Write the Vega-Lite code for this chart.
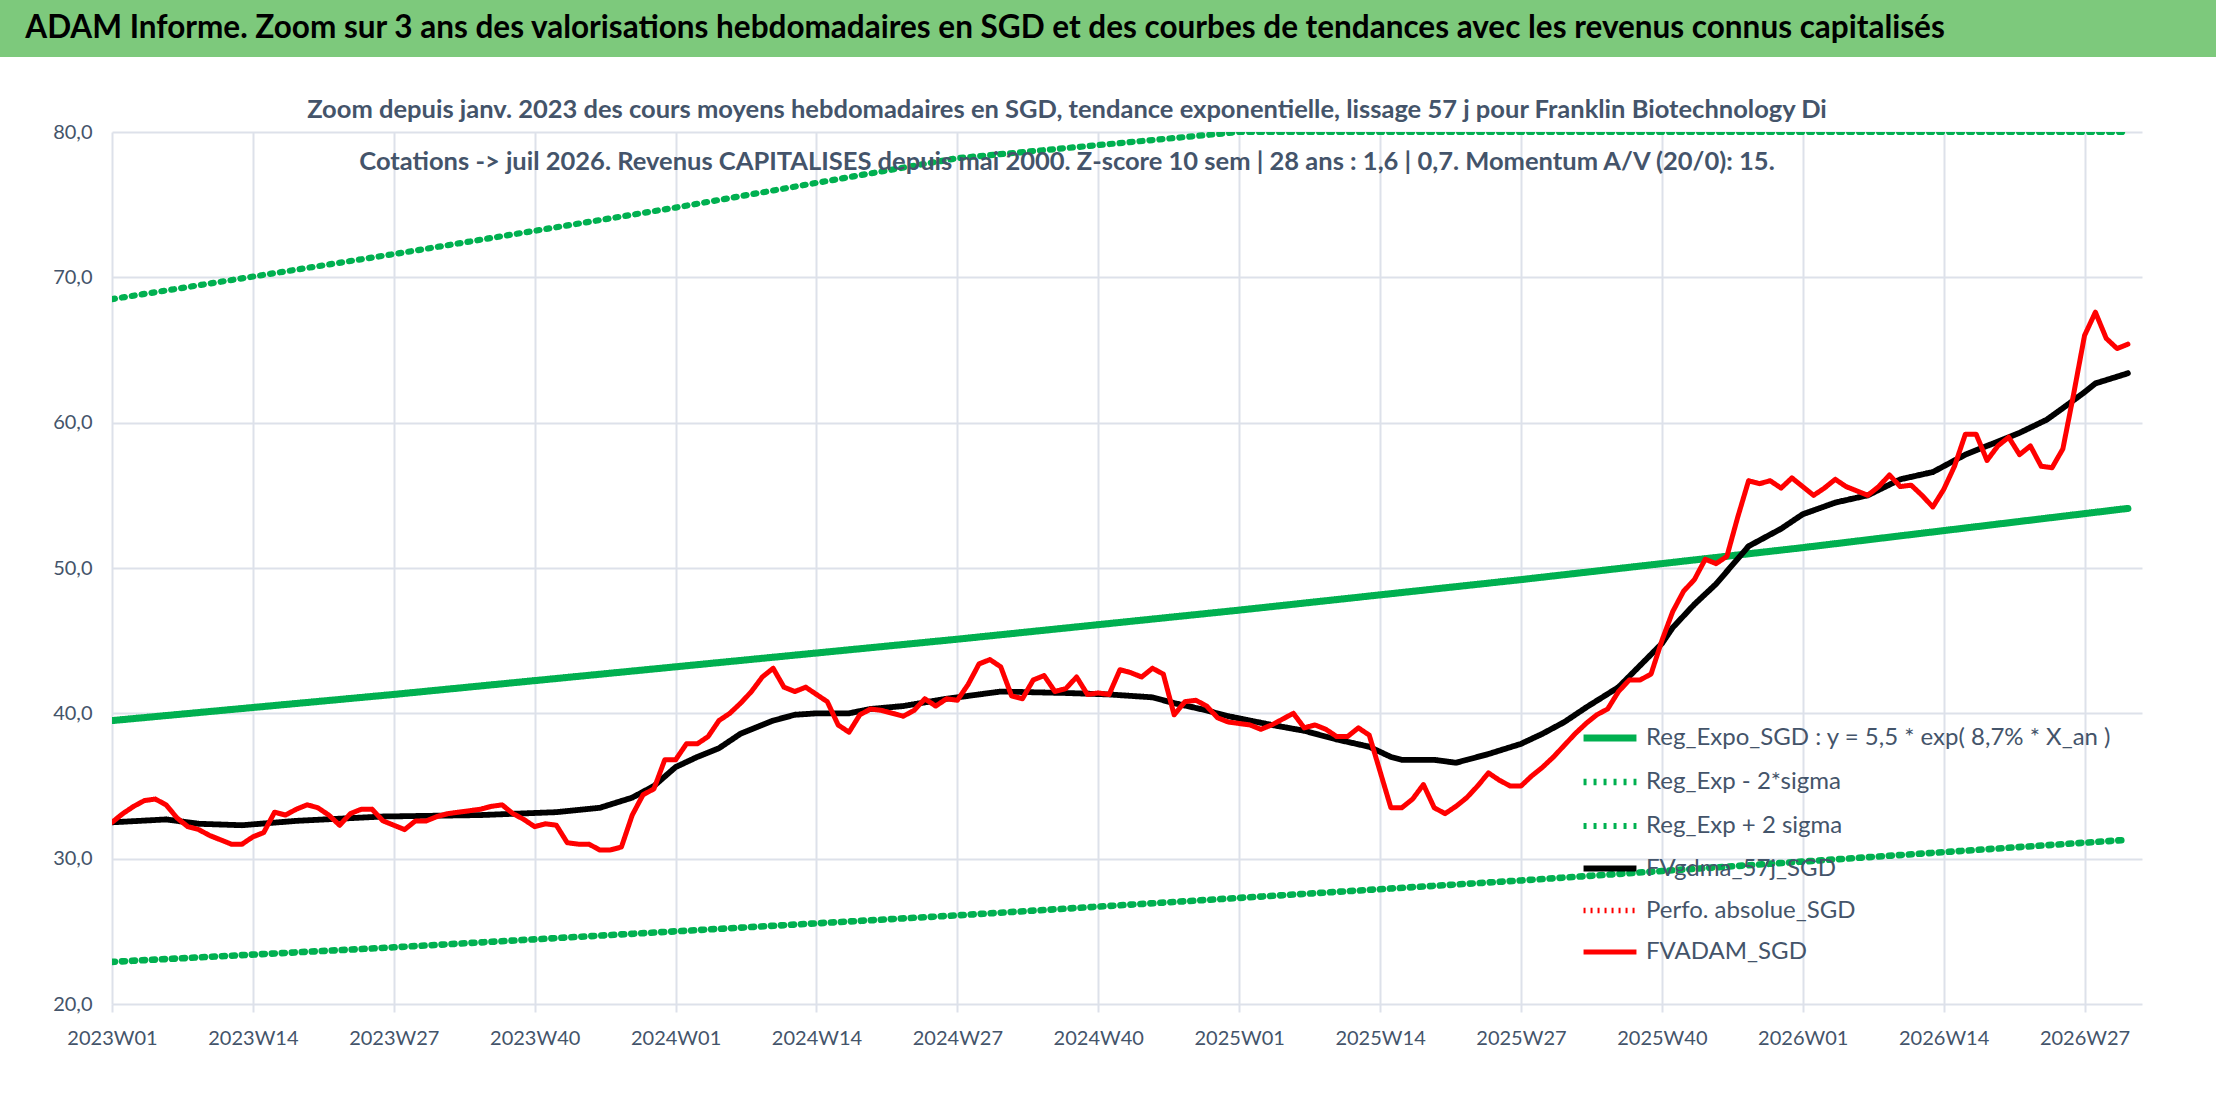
{
  "$schema": "https://vega.github.io/schema/vega-lite/v6.json",
  "background": "white",
  "padding": 0,
  "spacing": 40,
  "config": {
    "font": "Lato",
    "view": {"stroke": null}
  },
  "vconcat": [
    {
      "width": 2104,
      "height": 57,
      "data": {"values": [{"t": "ADAM Informe. Zoom sur 3 ans des valorisations hebdomadaires en SGD et des courbes de tendances avec les revenus connus capitalisés"}]},
      "layer": [
        {
          "mark": {"type": "rect", "color": "#7dc97c", "clip": false},
          "encoding": {"x": {"value": -112}, "x2": {"value": 2104}, "y": {"value": 0}, "y2": {"value": 57}}
        },
        {
          "mark": {"type": "text", "font": "Lato", "fontSize": 31.5, "fontWeight": "bold", "color": "black", "align": "center", "baseline": "middle", "dx": -179},
          "encoding": {"text": {"field": "t"}}
        }
      ]
    },
    {
      "width": 2030,
      "height": 872,
      "title": {
        "text": [
          "Zoom depuis janv. 2023 des cours moyens hebdomadaires en SGD, tendance exponentielle, lissage 57 j pour Franklin Biotechnology Di",
          "Cotations -> juil 2026. Revenus CAPITALISES depuis mai 2000. Z-score 10 sem | 28 ans : 1,6 | 0,7. Momentum A/V (20/0): 15."
        ],
        "font": "Lato",
        "fontSize": 25.5,
        "fontWeight": "bold",
        "color": "#44546a",
        "lineHeight": 52,
        "offset": -53,
        "dx": -60
      },
      "data": {
        "values": [
          {"i": 0, "r": 32.5, "b": 32.5, "t": 39.5, "lo": 22.9, "hi": 68.5},
          {"i": 1, "r": 33.1}, {"i": 2, "r": 33.6}, {"i": 3, "r": 34.0}, {"i": 4, "r": 34.1},
          {"i": 5, "r": 33.7, "b": 32.7}, {"i": 6, "r": 32.8}, {"i": 7, "r": 32.2}, {"i": 8, "r": 32.0, "b": 32.4},
          {"i": 9, "r": 31.6}, {"i": 10, "r": 31.3}, {"i": 11, "r": 31.0}, {"i": 12, "r": 31.0, "b": 32.3},
          {"i": 13, "r": 31.5}, {"i": 14, "r": 31.8}, {"i": 15, "r": 33.2}, {"i": 16, "r": 33.0},
          {"i": 17, "r": 33.4, "b": 32.6}, {"i": 18, "r": 33.7}, {"i": 19, "r": 33.5}, {"i": 20, "r": 33.0},
          {"i": 21, "r": 32.3}, {"i": 22, "r": 33.1}, {"i": 23, "r": 33.4}, {"i": 24, "r": 33.4},
          {"i": 25, "r": 32.6, "b": 32.9}, {"i": 26, "r": 32.3, "t": 41.3, "lo": 23.9, "hi": 71.6}, {"i": 27, "r": 32.0}, {"i": 28, "r": 32.6},
          {"i": 29, "r": 32.6}, {"i": 30, "r": 32.9}, {"i": 31, "r": 33.1}, {"i": 32, "r": 33.2},
          {"i": 33, "r": 33.3}, {"i": 34, "r": 33.4, "b": 33.0}, {"i": 35, "r": 33.6}, {"i": 36, "r": 33.7},
          {"i": 37, "r": 33.1}, {"i": 38, "r": 32.7}, {"i": 39, "r": 32.2}, {"i": 40, "r": 32.4},
          {"i": 41, "r": 32.3, "b": 33.2}, {"i": 42, "r": 31.1}, {"i": 43, "r": 31.0}, {"i": 44, "r": 31.0},
          {"i": 45, "r": 30.6, "b": 33.5}, {"i": 46, "r": 30.6}, {"i": 47, "r": 30.8}, {"i": 48, "r": 33.0, "b": 34.2},
          {"i": 49, "r": 34.4}, {"i": 50, "r": 34.8, "b": 35.0}, {"i": 51, "r": 36.8}, {"i": 52, "r": 36.8, "b": 36.3, "t": 43.2, "lo": 25.0, "hi": 74.8},
          {"i": 53, "r": 37.9}, {"i": 54, "r": 37.9, "b": 37.0}, {"i": 55, "r": 38.4}, {"i": 56, "r": 39.5, "b": 37.6},
          {"i": 57, "r": 40.0}, {"i": 58, "r": 40.7, "b": 38.6}, {"i": 59, "r": 41.5}, {"i": 60, "r": 42.5},
          {"i": 61, "r": 43.1, "b": 39.5}, {"i": 62, "r": 41.8}, {"i": 63, "r": 41.5, "b": 39.9}, {"i": 64, "r": 41.8},
          {"i": 65, "r": 41.3, "b": 40.0}, {"i": 66, "r": 40.8}, {"i": 67, "r": 39.2}, {"i": 68, "r": 38.7, "b": 40.0},
          {"i": 69, "r": 39.9}, {"i": 70, "r": 40.3, "b": 40.3}, {"i": 71, "r": 40.2}, {"i": 72, "r": 40.0},
          {"i": 73, "r": 39.8, "b": 40.5}, {"i": 74, "r": 40.2}, {"i": 75, "r": 41.0}, {"i": 76, "r": 40.5},
          {"i": 77, "r": 41.0, "b": 41.0}, {"i": 78, "r": 40.9, "t": 45.1, "lo": 26.1, "hi": 78.2}, {"i": 79, "r": 42.0, "b": 41.2}, {"i": 80, "r": 43.4},
          {"i": 81, "r": 43.7}, {"i": 82, "r": 43.2, "b": 41.5}, {"i": 83, "r": 41.2}, {"i": 84, "r": 41.0},
          {"i": 85, "r": 42.3}, {"i": 86, "r": 42.6}, {"i": 87, "r": 41.5}, {"i": 88, "r": 41.7, "b": 41.4},
          {"i": 89, "r": 42.5}, {"i": 90, "r": 41.3}, {"i": 91, "r": 41.4}, {"i": 92, "r": 41.3, "b": 41.3},
          {"i": 93, "r": 43.0}, {"i": 94, "r": 42.8}, {"i": 95, "r": 42.5}, {"i": 96, "r": 43.1, "b": 41.1},
          {"i": 97, "r": 42.7}, {"i": 98, "r": 39.9, "b": 40.7}, {"i": 99, "r": 40.8}, {"i": 100, "r": 40.9},
          {"i": 101, "r": 40.5, "b": 40.2}, {"i": 102, "r": 39.7}, {"i": 103, "r": 39.4, "b": 39.8}, {"i": 104, "r": 39.3, "t": 47.1, "lo": 27.3, "hi": 81.7},
          {"i": 105, "r": 39.2, "b": 39.5}, {"i": 106, "r": 38.9}, {"i": 107, "r": 39.2, "b": 39.2}, {"i": 108, "r": 39.6},
          {"i": 109, "r": 40.0}, {"i": 110, "r": 39.0, "b": 38.8}, {"i": 111, "r": 39.2}, {"i": 112, "r": 38.9},
          {"i": 113, "r": 38.4, "b": 38.2}, {"i": 114, "r": 38.4}, {"i": 115, "r": 39.0}, {"i": 116, "r": 38.5, "b": 37.7},
          {"i": 117, "r": 36.0}, {"i": 118, "r": 33.5, "b": 37.0}, {"i": 119, "r": 33.5, "b": 36.8}, {"i": 120, "r": 34.1},
          {"i": 121, "r": 35.1}, {"i": 122, "r": 33.5, "b": 36.8}, {"i": 123, "r": 33.1}, {"i": 124, "r": 33.6, "b": 36.6},
          {"i": 125, "r": 34.2, "b": 36.8}, {"i": 126, "r": 35.0}, {"i": 127, "r": 35.9, "b": 37.2}, {"i": 128, "r": 35.4},
          {"i": 129, "r": 35.0}, {"i": 130, "r": 35.0, "b": 37.9, "t": 49.2, "lo": 28.5, "hi": 85.3}, {"i": 131, "r": 35.7}, {"i": 132, "r": 36.3, "b": 38.6},
          {"i": 133, "r": 37.0}, {"i": 134, "r": 37.8, "b": 39.4}, {"i": 135, "r": 38.6}, {"i": 136, "r": 39.3, "b": 40.4},
          {"i": 137, "r": 39.9}, {"i": 138, "r": 40.3}, {"i": 139, "r": 41.5, "b": 41.8}, {"i": 140, "r": 42.3},
          {"i": 141, "r": 42.3, "b": 43.3}, {"i": 142, "r": 42.7}, {"i": 143, "r": 45.0, "b": 44.8}, {"i": 144, "r": 47.0, "b": 45.9},
          {"i": 145, "r": 48.4}, {"i": 146, "r": 49.2, "b": 47.5}, {"i": 147, "r": 50.6}, {"i": 148, "r": 50.3, "b": 48.9},
          {"i": 149, "r": 50.8}, {"i": 150, "r": 53.5}, {"i": 151, "r": 56.0, "b": 51.5}, {"i": 152, "r": 55.8},
          {"i": 153, "r": 56.0}, {"i": 154, "r": 55.5, "b": 52.7}, {"i": 155, "r": 56.2}, {"i": 156, "r": 55.6, "b": 53.7, "t": 51.4, "lo": 29.8, "hi": 89.1},
          {"i": 157, "r": 55.0}, {"i": 158, "r": 55.5}, {"i": 159, "r": 56.1, "b": 54.5}, {"i": 160, "r": 55.6},
          {"i": 161, "r": 55.3}, {"i": 162, "r": 55.0, "b": 55.0}, {"i": 163, "r": 55.6}, {"i": 164, "r": 56.4},
          {"i": 165, "r": 55.6, "b": 56.1}, {"i": 166, "r": 55.7}, {"i": 167, "r": 55.0}, {"i": 168, "r": 54.2, "b": 56.6},
          {"i": 169, "r": 55.4}, {"i": 170, "r": 57.0}, {"i": 171, "r": 59.2, "b": 57.8}, {"i": 172, "r": 59.2},
          {"i": 173, "r": 57.4, "b": 58.4}, {"i": 174, "r": 58.4}, {"i": 175, "r": 59.0}, {"i": 176, "r": 57.8, "b": 59.3},
          {"i": 177, "r": 58.4}, {"i": 178, "r": 57.0}, {"i": 178.5, "b": 60.2}, {"i": 179, "r": 56.9}, {"i": 180, "r": 58.2, "b": 61.0},
          {"i": 181, "r": 62.0}, {"i": 182, "r": 66.0, "b": 62.1}, {"i": 183, "r": 67.6, "b": 62.7}, {"i": 184, "r": 65.8},
          {"i": 185, "r": 65.1}, {"i": 186, "r": 65.4, "b": 63.4, "t": 54.1, "lo": 31.3, "hi": 93.8}
        ]
      },
      "transform": [
        {"fold": ["t", "lo", "hi", "b", "r"]},
        {"filter": "isValid(datum.value)"}
      ],
      "mark": {"type": "line", "strokeCap": "round", "strokeJoin": "round", "clip": true},
      "encoding": {
        "x": {
          "field": "i",
          "type": "quantitative",
          "scale": {"domain": [0, 187.3], "nice": false, "zero": false},
          "axis": {
            "title": null,
            "values": [0, 13, 26, 39, 52, 65, 78, 91, 104, 117, 130, 143, 156, 169, 182],
            "labelExpr": "(2023 + floor(datum.value / 52)) + 'W' + ((datum.value % 52) + 1 < 10 ? '0' : '') + ((datum.value % 52) + 1)",
            "labelFont": "Lato",
            "labelFontSize": 20,
            "labelColor": "#44546a",
            "labelPadding": 16,
            "labelFlush": false,
            "grid": true,
            "gridColor": "#dde1ea",
            "gridWidth": 2,
            "domain": false,
            "ticks": true,
            "tickColor": "#dde1ea",
            "tickWidth": 2,
            "tickSize": 8
          }
        },
        "y": {
          "field": "value",
          "type": "quantitative",
          "scale": {"domain": [20, 80], "nice": false, "zero": false, "clamp": true},
          "axis": {
            "title": null,
            "values": [20, 30, 40, 50, 60, 70, 80],
            "labelExpr": "replace(format(datum.value, '.1f'), '.', ',')",
            "labelFont": "Lato",
            "labelFontSize": 20,
            "labelColor": "#44546a",
            "labelPadding": 20,
            "minExtent": 112,
            "maxExtent": 112,
            "grid": true,
            "gridColor": "#dde1ea",
            "gridWidth": 2,
            "domain": false,
            "ticks": false
          }
        },
        "color": {
          "field": "key",
          "type": "nominal",
          "scale": {
            "domain": ["t", "lo", "hi", "b", "p", "r"],
            "range": ["#00b050", "#00b050", "#00b050", "#000000", "#ff0000", "#ff0000"]
          },
          "legend": {
            "title": null,
            "orient": "none",
            "legendX": 1468,
            "legendY": 708,
            "symbolType": "stroke",
            "symbolSize": 2800,
            "labelFont": "Lato",
            "labelFontSize": 24,
            "labelColor": "#44546a",
            "labelLimit": 600,
            "rowPadding": 0,
            "labelOffset": 6,
            "labelExpr": "datum.label == 't' ? 'Reg_Expo_SGD : y = 5,5 * exp( 8,7% *  X_an )' : datum.label == 'lo' ? 'Reg_Exp - 2*sigma' : datum.label == 'hi' ? 'Reg_Exp + 2 sigma' : datum.label == 'b' ? 'FVgdma_57j_SGD' : datum.label == 'p' ? 'Perfo. absolue_SGD' : 'FVADAM_SGD'"
          }
        },
        "strokeDash": {
          "field": "key",
          "type": "nominal",
          "scale": {
            "domain": ["t", "lo", "hi", "b", "p", "r"],
            "range": [[1, 0], [3, 7], [3, 7], [1, 0], [2, 5], [1, 0]]
          },
          "legend": null
        },
        "strokeWidth": {
          "field": "key",
          "type": "nominal",
          "scale": {
            "domain": ["t", "lo", "hi", "b", "p", "r"],
            "range": [7, 5, 5, 5, 3, 7]
          },
          "legend": null
        }
      }
    }
  ]
}
